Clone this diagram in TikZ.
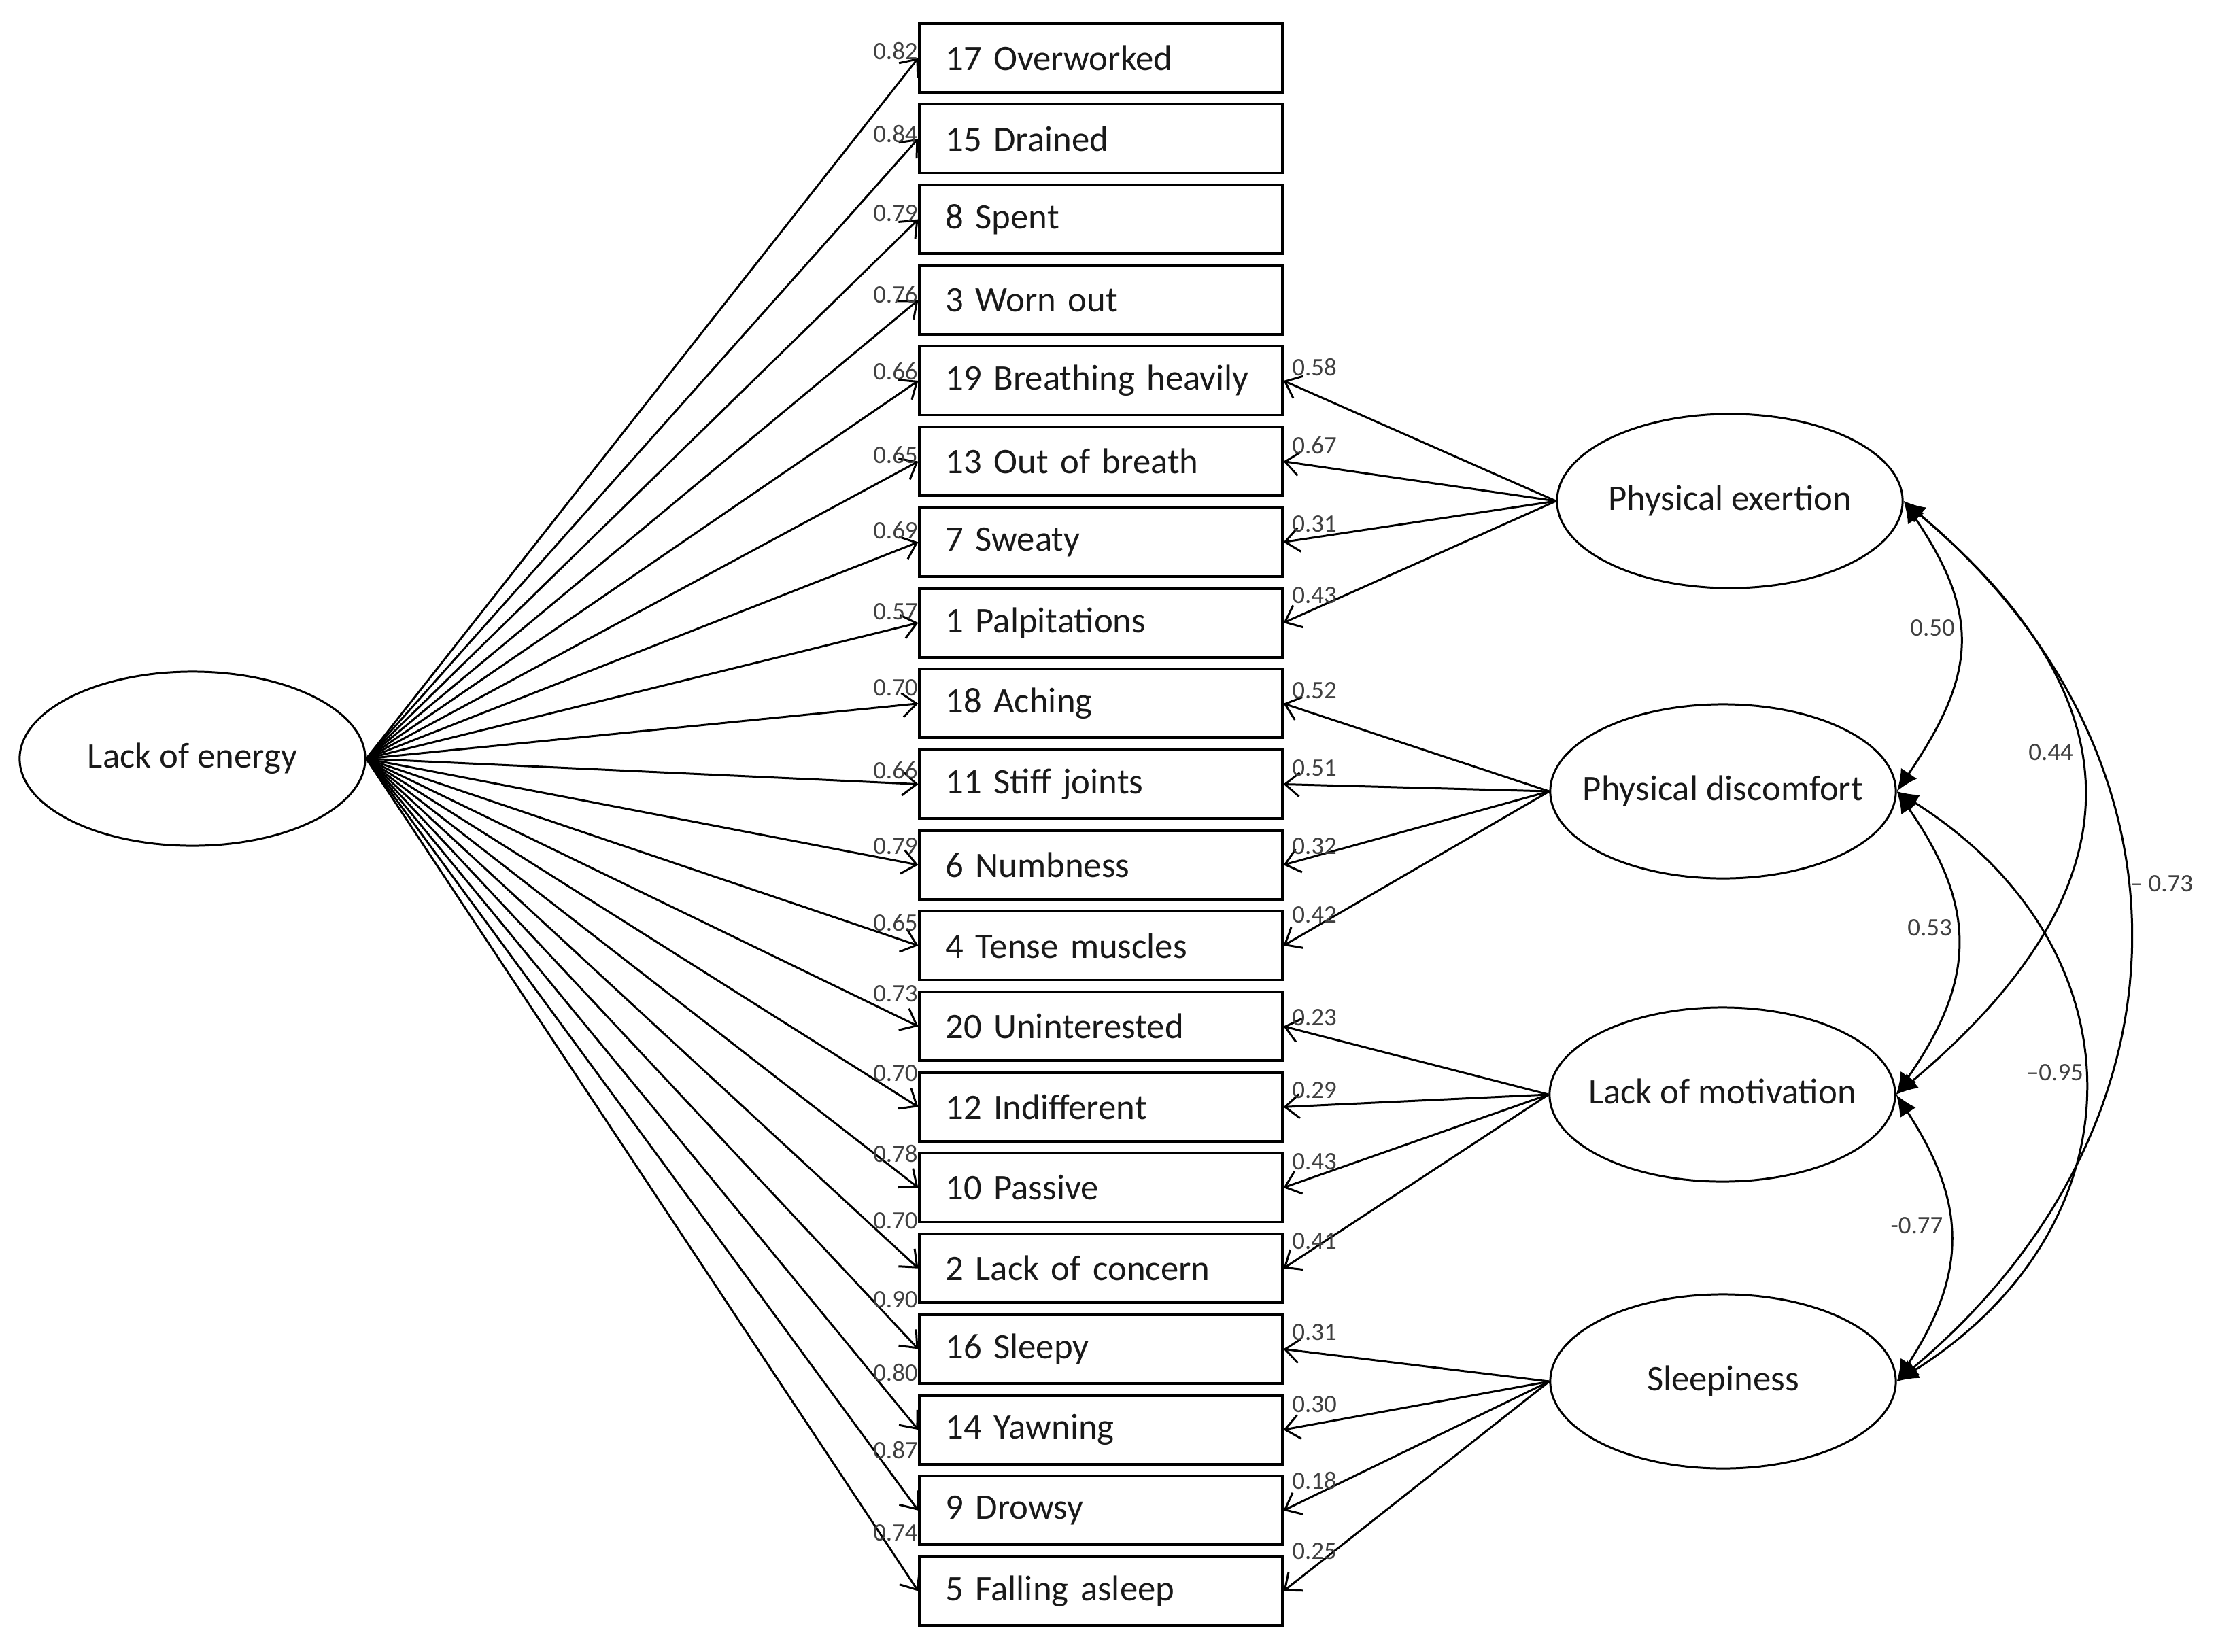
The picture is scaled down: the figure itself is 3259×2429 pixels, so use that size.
\documentclass[tikz,border=0pt]{standalone}
\usepackage{fontspec}
\setmainfont{Carlito}
\usetikzlibrary{shapes.geometric,arrows.meta}
\begin{document}
\begin{tikzpicture}[x=0.01cm,y=-0.01cm,
  item/.style={draw, line width=1.1pt, minimum width=5.33cm, minimum height=1.01cm,
    text width=4.57cm, align=left, inner xsep=0.38cm, inner ysep=0pt,
    font=\fontsize{15}{18}\selectfont, text=black!90},
  factor/.style={draw, ellipse, line width=0.85pt, minimum width=5.08cm, minimum height=2.56cm,
    inner sep=0pt, text height=2.2ex, text depth=0.6ex,
    font=\fontsize{15}{18}\selectfont, text=black!90},
  load/.style={line width=0.85pt, -{Straight Barb[length=6pt,width=10pt]}},
  corr/.style={line width=0.85pt, {Latex[length=9pt,width=8pt]}-{Latex[length=9pt,width=8pt]}},
  coef/.style={font=\fontsize{10.5}{12}\selectfont, text=black!75, inner sep=0pt},
]
\useasboundingbox (0,0) rectangle (3259,2429);

% items
\foreach \i/\t in {1/17 Overworked, 2/15 Drained, 3/8 Spent, 4/3 Worn out,
  5/19 Breathing heavily, 6/13 Out of breath, 7/7 Sweaty, 8/1 Palpitations,
  9/18 Aching, 10/11 Stiff joints, 11/6 Numbness, 12/4 Tense muscles,
  13/20 Uninterested, 14/12 Indifferent, 15/10 Passive, 16/2 Lack of concern,
  17/16 Sleepy, 18/14 Yawning, 19/9 Drowsy, 20/5 Falling asleep}
  \node[item] (b\i) at (1619, {85.2+(\i-1)*118.7}) {\t};

% factors
\node[factor] (LE) at (283,1116) {\makebox[0pt]{Lack of energy}};
\node[factor] (PE) at (2544,737) {\makebox[0pt]{Physical exertion}};
\node[factor] (PD) at (2534,1164) {\makebox[0pt]{Physical discomfort}};
\node[factor] (LM) at (2533,1610) {\makebox[0pt]{Lack of motivation}};
\node[factor] (SL) at (2534,2032) {\makebox[0pt]{Sleepiness}};

% general factor loadings
\foreach \i in {1,...,20} \draw[load] (LE.east) -- (b\i.west);
\foreach \i/\v/\d in {1/0.82/10, 2/0.84/7, 3/0.79/9, 4/0.76/8, 5/0.66/14, 6/0.65/10,
  7/0.69/17, 8/0.57/16, 9/0.70/23, 10/0.66/20, 11/0.79/28, 12/0.65/34, 13/0.73/48,
  14/0.70/50, 15/0.78/50, 16/0.70/70, 17/0.90/73, 18/0.80/84, 19/0.87/89, 20/0.74/86}
  \node[coef, anchor=east] at ([shift={(0,-\d)}]b\i.west) {\v};

% specific factor loadings
\foreach \i in {5,...,8} \draw[load] (PE.west) -- (b\i.east);
\foreach \i in {9,...,12} \draw[load] (PD.west) -- (b\i.east);
\foreach \i in {13,...,16} \draw[load] (LM.west) -- (b\i.east);
\foreach \i in {17,...,20} \draw[load] (SL.west) -- (b\i.east);
\foreach \i/\v/\d in {5/0.58/20, 6/0.67/24, 7/0.31/27, 8/0.43/40, 9/0.52/19, 10/0.51/24,
  11/0.32/28, 12/0.42/45, 13/0.23/13, 14/0.29/25, 15/0.43/38, 16/0.41/40,
  17/0.31/25, 18/0.30/37, 19/0.18/44, 20/0.25/59}
  \node[coef, anchor=west] at ([shift={(12,-\d)}]b\i.east) {\v};

% correlations
\draw[corr] (PE.east) .. controls +(115,170) and +(115,-170) .. (PD.east);
\draw[corr] (PE.east) .. controls +(357,300) and +(357,-300) .. (LM.east);
\draw[corr] (PE.east) .. controls +(447,375) and +(447,-375) .. (SL.east);
\draw[corr] (PD.east) .. controls +(118,170) and +(118,-170) .. (LM.east);
\draw[corr] (PD.east) .. controls +(365,230) and +(365,-230) .. (SL.east);
\draw[corr] (LM.east) .. controls +(104,160) and +(104,-160) .. (SL.east);

\node[coef] at (2842,924) {0.50};
\node[coef] at (3016,1107) {0.44};
\node[coef] at (3179,1300) {– 0.73};
\node[coef] at (2838,1365) {0.53};
\node[coef] at (3022,1578) {–0.95};
\node[coef] at (2819,1803) {-0.77};
\end{tikzpicture}
\end{document}
